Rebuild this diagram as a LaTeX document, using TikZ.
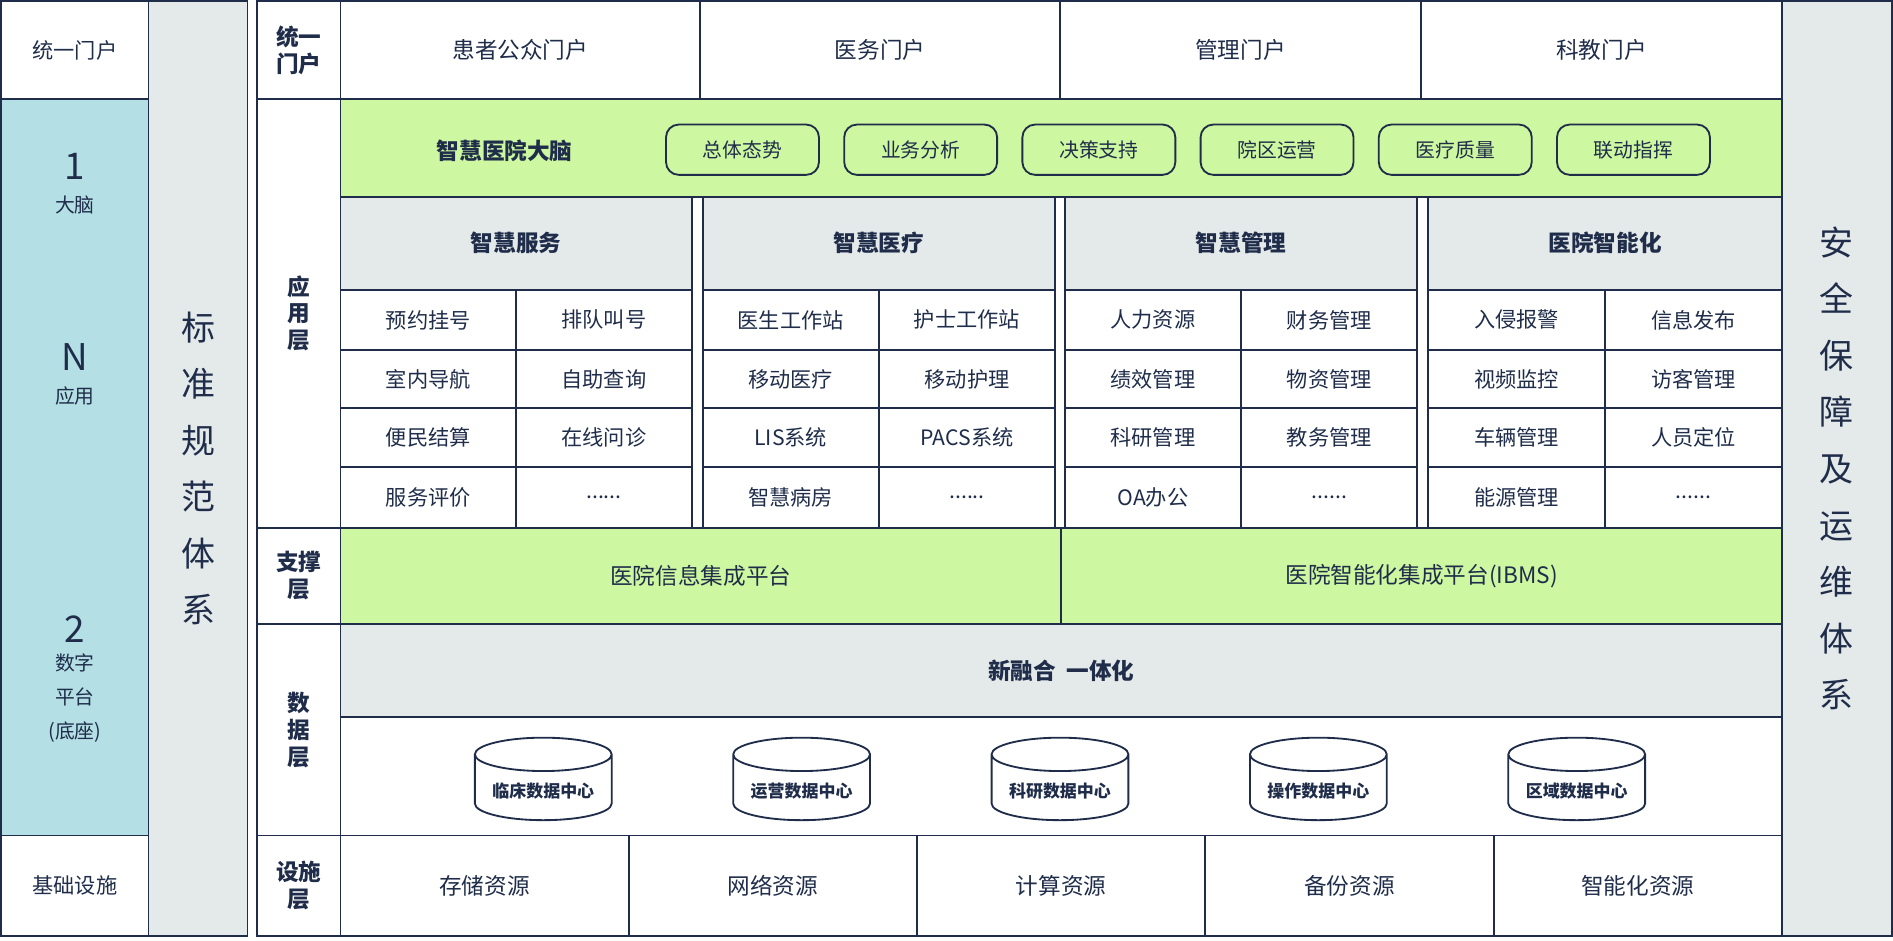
\documentclass[tikz,border=0pt]{standalone}
\usepackage{fontspec}
\setmainfont{Noto Sans CJK SC}
\usetikzlibrary{shapes.geometric}
\definecolor{navy}{HTML}{1F2D4A}
\definecolor{greyf}{HTML}{E4E9E9}
\definecolor{greenf}{HTML}{CDF7A0}
\definecolor{bluef}{HTML}{B4DFE4}
\tikzset{
  box/.style={draw=navy,line width=1.3pt,inner sep=0pt,outer sep=0pt,text=navy,align=center,font=\fontsize{15}{18}\selectfont},
  pill/.style={draw=navy,line width=1.3pt,rounded corners=9pt,fill=greenf,text=navy,minimum width=3.8cm,minimum height=1.25cm,font=\fontsize{14}{17}\selectfont},
  db/.style={cylinder,shape border rotate=90,aspect=0.3,draw=navy,line width=1.3pt,fill=white,text=navy,minimum width=3.4cm,minimum height=2.05cm,font=\fontsize{12}{14}\selectfont\bfseries},
  hd/.style={font=\fontsize{16}{19}\selectfont\bfseries}
}
\newcommand\cellbox[7]{%
  \node[box,#6,minimum width={((#4)-(#2))*0.03cm},minimum height={((#5)-(#3))*0.03cm}] (#1) at ({((#2)+(#4))/2},{((#3)+(#5))/2}) {#7};}
\newcommand\mdots{......}
\begin{document}
\begin{tikzpicture}[x=0.03cm,y=-0.03cm]
\useasboundingbox (0,0) rectangle (1568,779);
% left column
\cellbox{lportal}{1}{1}{123}{82}{}{统一门户}
\cellbox{lmain}{1}{82}{123}{692}{fill=bluef}{}
\cellbox{linfra}{1}{692}{123}{775}{}{基础设施}
\node[text=navy,align=center,font=\fontsize{26}{26}\selectfont] (one) at (62,138) {1};
\node[text=navy,font=\fontsize{14}{17}\selectfont] (brain) at (62,170) {大脑};
\node[text=navy,font=\fontsize{26}{26}\selectfont] (nn) at (62,296) {N};
\node[text=navy,font=\fontsize{14}{17}\selectfont] (app) at (62,328) {应用};
\node[text=navy,font=\fontsize{26}{26}\selectfont] (two) at (62,521) {2};
\node[text=navy,align=center,font=\fontsize{14}{24}\selectfont] (plat) at (62,578) {数字\\平台\\(底座)};
% standards column
\cellbox{std}{123}{1}{205}{775}{fill=greyf,font=\fontsize{24}{40}\selectfont}{标\\准\\规\\范\\体\\系}
% layer labels
\cellbox{Lportal}{213}{1}{282}{82}{hd}{统一\\门户}
\cellbox{Lapp}{213}{82}{282}{437}{hd}{应\\用\\层}
\cellbox{Lsup}{213}{437}{282}{517}{hd}{支撑\\层}
\cellbox{Ldata}{213}{517}{282}{692}{hd}{数\\据\\层}
\cellbox{Linfra}{213}{692}{282}{775}{hd}{设施\\层}
% portals
\cellbox{p1}{282}{1}{580}{82}{font=\fontsize{16}{19}\selectfont}{患者公众门户}
\cellbox{p2}{580}{1}{878}{82}{font=\fontsize{16}{19}\selectfont}{医务门户}
\cellbox{p3}{878}{1}{1177}{82}{font=\fontsize{16}{19}\selectfont}{管理门户}
\cellbox{p4}{1177}{1}{1476}{82}{font=\fontsize{16}{19}\selectfont}{科教门户}
% brain
\cellbox{brainrow}{282}{82}{1476}{163}{fill=greenf}{}
\node[text=navy,hd] (bt) at (418,125) {智慧医院大脑};
\foreach \t [count=\i] in {总体态势,业务分析,决策支持,院区运营,医疗质量,联动指挥}
  \node[pill] (pill\i) at ({615+(\i-1)*147.6},124) {\t};
% applications
\foreach \h/\xa/\xb [count=\g] in {智慧服务/282/573,智慧医疗/582/874,智慧管理/882/1174,医院智能化/1183/1476}
  \cellbox{h\g}{\xa}{163}{\xb}{240}{fill=greyf,hd}{\h};
\foreach \xa/\xb [count=\g] in {282/573,582/874,882/1174,1183/1476}{
  \foreach \ya/\yb [count=\r] in {240/290,290/338,338/387,387/437}{
    \cellbox{c\g\r a}{\xa}{\ya}{(\xa+\xb)/2}{\yb}{}{}
    \cellbox{c\g\r b}{(\xa+\xb)/2}{\ya}{\xb}{\yb}{}{}
  }
}
\foreach \g/\labs in {1/{预约挂号,排队叫号,室内导航,自助查询,便民结算,在线问诊,服务评价,\mdots},
  2/{医生工作站,护士工作站,移动医疗,移动护理,LIS系统,PACS系统,智慧病房,\mdots},
  3/{人力资源,财务管理,绩效管理,物资管理,科研管理,教务管理,OA办公,\mdots},
  4/{入侵报警,信息发布,视频监控,访客管理,车辆管理,人员定位,能源管理,\mdots}}{
  \foreach \t [count=\k] in \labs {
    \pgfmathtruncatemacro\r{int((\k+1)/2)}
    \ifodd\k\def\s{a}\else\def\s{b}\fi
    \node[text=navy,font=\fontsize{15}{18}\selectfont] at (c\g\r\s) {\t};
  }
}
% support
\cellbox{s1}{282}{437}{879}{517}{fill=greenf,font=\fontsize{16}{19}\selectfont}{医院信息集成平台}
\cellbox{s2}{879}{437}{1476}{517}{fill=greenf,font=\fontsize{16}{19}\selectfont}{医院智能化集成平台(IBMS)}
% data
\cellbox{fuse}{282}{517}{1476}{594}{fill=greyf,hd}{新融合\ \ 一体化}
\cellbox{dbrow}{282}{594}{1476}{692}{}{}
\foreach \t [count=\i] in {临床数据中心,运营数据中心,科研数据中心,操作数据中心,区域数据中心}
  \node[db] (db\i) at ({450+(\i-1)*214},655) {\t};
% infrastructure
\foreach \t [count=\i] in {存储资源,网络资源,计算资源,备份资源,智能化资源}
  \cellbox{inf\i}{282+(\i-1)*238.8}{692}{282+\i*238.8}{775}{font=\fontsize{16}{19}\selectfont}{\t};
% security column
\cellbox{sec}{1476}{1}{1567}{775}{fill=greyf,font=\fontsize{24}{40}\selectfont}{安\\全\\保\\障\\及\\运\\维\\体\\系}
\end{tikzpicture}
\end{document}
